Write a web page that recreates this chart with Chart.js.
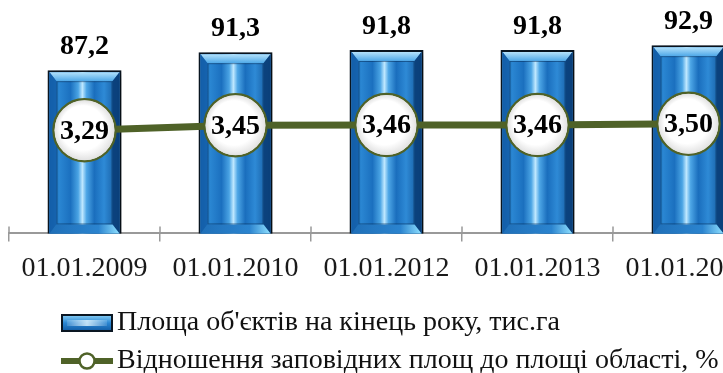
<!DOCTYPE html>
<html>
<head>
<meta charset="utf-8">
<script src="https://cdn.jsdelivr.net/npm/chart.js@4"></script>
<style>
    html, body { margin: 0; padding: 0; background: #fff; }
    #wrap { width: 723px; height: 373px; overflow: hidden; position: relative; }
    #chart { display: block; }
</style>
</head>
<body>
<div id="wrap"><canvas id="chart" width="770" height="385"></canvas></div>
<script>
// Data
var categories = ['01.01.2009', '01.01.2010', '01.01.2012', '01.01.2013', '01.01.2014'];
var areaValues = [87.2, 91.3, 91.8, 91.8, 92.9];
var shareValues = [3.29, 3.45, 3.46, 3.46, 3.50];
var seriesNames = ['Площа об\'єктів на кінець року, тис.га', 'Відношення заповідних площ до площі області, %'];

var serif = "'Liberation Serif'";
var olive = '#4f6228';

/**
 * Legend icons
 */
function makeBarIcon() {
    var c = document.createElement('canvas');
    c.width = 52; c.height = 18;
    var ctx = c.getContext('2d');
    ctx.fillStyle = '#0a1622';
    ctx.fillRect(0, 0, 52, 18);
    var g = ctx.createLinearGradient(0, 2, 0, 16);
    g.addColorStop(0, '#7cc6f2');
    g.addColorStop(0.5, '#2a86d2');
    g.addColorStop(1, '#1561aa');
    ctx.fillStyle = g;
    ctx.fillRect(2, 2, 48, 14);
    var h = ctx.createLinearGradient(2, 0, 50, 0);
    h.addColorStop(0, 'rgba(255,255,255,0)');
    h.addColorStop(0.5, 'rgba(230,248,255,0.8)');
    h.addColorStop(1, 'rgba(255,255,255,0)');
    ctx.fillStyle = h;
    ctx.fillRect(6, 6, 40, 6);
    return c;
}

function makeLineIcon() {
    var c = document.createElement('canvas');
    c.width = 54; c.height = 20;
    var ctx = c.getContext('2d');
    ctx.strokeStyle = olive;
    ctx.lineWidth = 6;
    ctx.beginPath();
    ctx.moveTo(1, 10); ctx.lineTo(53, 10);
    ctx.stroke();
    ctx.beginPath();
    ctx.arc(27, 10, 7.5, 0, Math.PI * 2);
    ctx.fillStyle = '#fff';
    ctx.fill();
    ctx.lineWidth = 2.5;
    ctx.stroke();
    return c;
}

/**
 * Bar look: shadow, bevel and glossy face
 */
var barLook = {
    id: 'barLook',
    beforeDatasetDraw: function (chart, args) {
        if (args.index !== 0) return;
        var ctx = chart.ctx;
        ctx.save();
        ctx.shadowColor = 'rgba(0,0,0,0.45)';
        ctx.shadowBlur = 10;
        ctx.shadowOffsetX = 6;
        ctx.shadowOffsetY = 2;
    },
    afterDatasetDraw: function (chart, args) {
        if (args.index !== 0) return;
        var ctx = chart.ctx;
        ctx.restore();
        args.meta.data.forEach(function (bar) {
            var p = bar.getProps(['x', 'y', 'base', 'width'], true);
            var l = p.x - p.width / 2 + 2, r = p.x + p.width / 2 - 2, t = p.y + 2;
            var b = Math.min(p.base, chart.chartArea.bottom);
            var w = r - l;
            ctx.save();
            // Face
            var g = ctx.createLinearGradient(l, 0, r, 0);
            g.addColorStop(0, '#0f5aa2');
            g.addColorStop(0.14, '#2a86d2');
            g.addColorStop(0.3, '#1b70bf');
            g.addColorStop(0.41, '#4aa4e4');
            g.addColorStop(0.47, '#bfe8ff');
            g.addColorStop(0.53, '#4da6e6');
            g.addColorStop(0.64, '#1a6ebd');
            g.addColorStop(0.78, '#2e8ad6');
            g.addColorStop(1, '#0f4f92');
            ctx.fillStyle = g;
            ctx.fillRect(l, t, w, b - t);
            // Top bevel
            var tg = ctx.createLinearGradient(0, t, 0, t + 9);
            tg.addColorStop(0, '#b4e2fb');
            tg.addColorStop(1, '#4ea8e8');
            ctx.fillStyle = tg;
            ctx.beginPath();
            ctx.moveTo(l, t); ctx.lineTo(r, t); ctx.lineTo(r - 7, t + 9); ctx.lineTo(l + 7, t + 9);
            ctx.closePath(); ctx.fill();
            // Left bevel
            ctx.fillStyle = 'rgba(20,95,170,0.85)';
            ctx.beginPath();
            ctx.moveTo(l, t); ctx.lineTo(l + 7, t + 9); ctx.lineTo(l + 7, b - 9); ctx.lineTo(l, b);
            ctx.closePath(); ctx.fill();
            // Right bevel
            ctx.fillStyle = 'rgba(10,62,120,0.9)';
            ctx.beginPath();
            ctx.moveTo(r, t); ctx.lineTo(r - 7, t + 9); ctx.lineTo(r - 7, b - 9); ctx.lineTo(r, b);
            ctx.closePath(); ctx.fill();
            // Bottom bevel
            var bg = ctx.createLinearGradient(l, 0, r, 0);
            bg.addColorStop(0, '#1f6fb8');
            bg.addColorStop(0.7, '#2b84cf');
            bg.addColorStop(1, '#8fe0ff');
            ctx.fillStyle = bg;
            ctx.beginPath();
            ctx.moveTo(l, b); ctx.lineTo(l + 7, b - 9); ctx.lineTo(r - 7, b - 9); ctx.lineTo(r, b);
            ctx.closePath(); ctx.fill();
            // Inner edge lines
            ctx.strokeStyle = 'rgba(5,40,80,0.5)';
            ctx.lineWidth = 1;
            ctx.strokeRect(l + 7.5, t + 9.5, w - 15, b - t - 19);
            ctx.restore();
        });
    }
};

/**
 * Value labels and glossy markers
 */
var valueLabels = {
    id: 'valueLabels',
    afterDatasetsDraw: function (chart) {
        var ctx = chart.ctx;
        ctx.save();
        ctx.font = 'bold 28px ' + serif;
        ctx.fillStyle = '#000';
        ctx.textAlign = 'center';

        // Bar values
        ctx.textBaseline = 'alphabetic';
        chart.getDatasetMeta(0).data.forEach(function (bar, i) {
            ctx.fillText(areaValues[i].toFixed(1).replace('.', ','), bar.x, bar.y - 16);
        });

        // Line values
        ctx.textBaseline = 'middle';
        chart.getDatasetMeta(1).data.forEach(function (pt, i) {
            var rg = ctx.createRadialGradient(pt.x - 6, pt.y - 8, 4, pt.x, pt.y, 30);
            rg.addColorStop(0, '#ffffff');
            rg.addColorStop(0.7, '#ffffff');
            rg.addColorStop(1, '#e2e2e2');
            ctx.fillStyle = rg;
            ctx.beginPath();
            ctx.arc(pt.x, pt.y, 30, 0, Math.PI * 2);
            ctx.fill();
            ctx.fillStyle = '#000';
            ctx.fillText(shareValues[i].toFixed(2).replace('.', ','), pt.x, pt.y + 1);
        });
        ctx.restore();
    }
};

/**
 * Tick marks crossing the axis line, and legend shift
 */
var axisTicks = {
    id: 'axisTicks',
    afterDraw: function (chart) {
        var x = chart.scales.x;
        var ctx = chart.ctx;
        var half = (x.getPixelForValue(1) - x.getPixelForValue(0)) / 2;
        ctx.save();
        ctx.strokeStyle = '#999';
        ctx.lineWidth = 1.5;
        ctx.beginPath();
        for (var i = 0; i <= categories.length; i++) {
            var px = x.getPixelForValue(i) - half;
            ctx.moveTo(px, x.top - 7);
            ctx.lineTo(px, x.top);
        }
        ctx.stroke();
        ctx.restore();
    },
    beforeDraw: function (chart) {
        chart.legend.left = 61;
    }
};

function drawChart() {
    var barIcon = makeBarIcon();
    var lineIcon = makeLineIcon();

    new Chart(document.getElementById('chart').getContext('2d'), {
        type: 'bar',
        data: {
            labels: categories,
            datasets: [
                {
                    type: 'bar',
                    label: seriesNames[0],
                    data: areaValues,
                    yAxisID: 'y',
                    backgroundColor: '#1b6fb8',
                    borderColor: '#0a1622',
                    borderWidth: 2,
                    borderSkipped: 'start',
                    categoryPercentage: 1,
                    barPercentage: 0.49,
                    order: 2
                },
                {
                    type: 'line',
                    label: seriesNames[1],
                    data: shareValues,
                    yAxisID: 'y1',
                    borderColor: olive,
                    borderWidth: 7,
                    pointRadius: 31,
                    pointBorderWidth: 2.5,
                    pointBorderColor: olive,
                    pointBackgroundColor: '#ffffff',
                    tension: 0,
                    order: 1
                }
            ]
        },
        options: {
            responsive: false,
            animation: false,
            layout: {
                autoPadding: false,
                padding: { top: 14, left: 9, right: 6, bottom: 0 }
            },
            scales: {
                x: {
                    offset: true,
                    grid: {
                        offset: true,
                        drawOnChartArea: false,
                        color: '#999',
                        lineWidth: 1.5,
                        tickLength: 8
                    },
                    border: { color: '#999', width: 2 },
                    ticks: {
                        color: '#1a1a1a',
                        padding: 10,
                        maxRotation: 0,
                        autoSkip: false,
                        font: { family: serif, size: 28 }
                    },
                    afterFit: function (scale) {
                        scale.height += 4;
                    }
                },
                y: { display: false, min: 50, max: 100 },
                y1: { display: false, min: 0, max: 7 }
            },
            plugins: {
                tooltip: { enabled: false },
                legend: {
                    position: 'bottom',
                    align: 'start',
                    labels: {
                        usePointStyle: true,
                        pointStyleWidth: 32,
                        padding: 10,
                        color: '#111',
                        font: { family: serif, size: 28 },
                        sort: function (a, b) { return a.datasetIndex - b.datasetIndex; },
                        generateLabels: function (chart) {
                            var items = Chart.defaults.plugins.legend.labels.generateLabels(chart);
                            items.forEach(function (item) {
                                item.pointStyle = item.datasetIndex === 0 ? barIcon : lineIcon;
                            });
                            return items;
                        }
                    }
                }
            }
        },
        plugins: [barLook, valueLabels, axisTicks]
    });
}

// Wait for the serif font before drawing
Promise.all([
    document.fonts.load('28px "Liberation Serif"'),
    document.fonts.load('bold 28px "Liberation Serif"')
]).then(drawChart, drawChart);
</script>
</body>
</html>
